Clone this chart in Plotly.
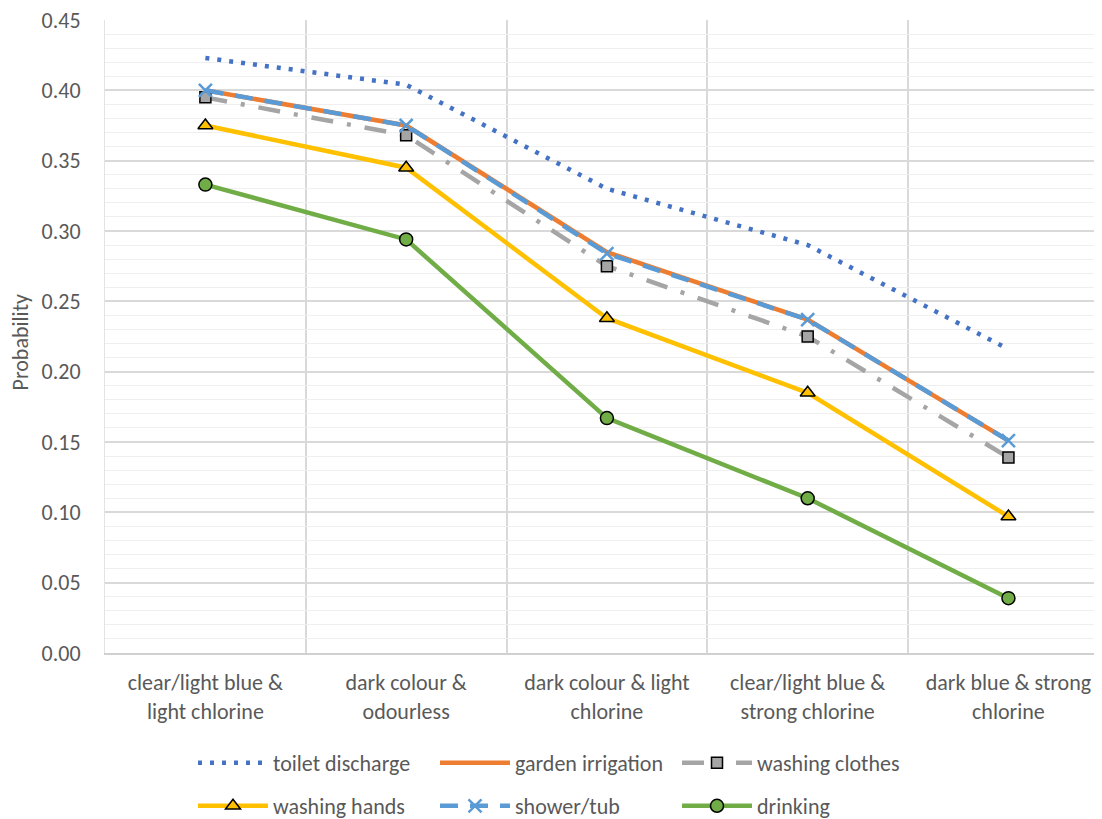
import plotly.graph_objects as go

categories = ["clear/light blue & light chlorine", "dark colour & odourless",
              "dark colour & light chlorine", "clear/light blue & strong chlorine",
              "dark blue & strong chlorine"]
tick_labels = ["clear/light blue &<br>light chlorine", "dark colour &<br>odourless",
               "dark colour & light<br>chlorine", "clear/light blue &<br>strong chlorine",
               "dark blue & strong<br>chlorine"]
y_title = "Probability"

toilet_discharge = [0.423, 0.404, 0.330, 0.290, 0.216]
garden_irrigation = [0.400, 0.375, 0.285, 0.237, 0.151]
washing_clothes = [0.395, 0.368, 0.275, 0.225, 0.139]
washing_hands = [0.375, 0.345, 0.238, 0.185, 0.097]
shower_tub = [0.400, 0.375, 0.284, 0.237, 0.151]
drinking = [0.333, 0.294, 0.167, 0.110, 0.039]

x = list(range(len(categories)))
FONT = "Calibri, Carlito, Lato, sans-serif"
TXT = "#595959"
FS = 22
W, H = 1094, 811   # page has an 8px body margin
OFF = 8

fig = go.Figure()
fig.add_trace(go.Scatter(x=x, y=toilet_discharge, name="toilet discharge", mode="lines",
                         line=dict(color="#4472C4", width=4.5, dash="4px,8px"),
                         legend="legend"))
fig.add_trace(go.Scatter(x=x, y=garden_irrigation, name="garden irrigation", mode="lines",
                         line=dict(color="#ED7D31", width=4.5), legend="legend2"))
fig.add_trace(go.Scatter(x=x, y=washing_clothes, name="washing clothes", mode="lines+markers",
                         line=dict(color="#A5A5A5", width=4.5, dash="22px,14px,4px,14px"),
                         marker=dict(symbol="square", size=11, color="#A5A5A5",
                                     line=dict(color="#000000", width=1.5)),
                         legend="legend3"))
fig.add_trace(go.Scatter(x=x, y=washing_hands, name="washing hands", mode="lines+markers",
                         line=dict(color="#FFC000", width=4.5),
                         marker=dict(symbol="triangle-up", size=13, color="#FFC000",
                                     line=dict(color="#000000", width=1.5)),
                         legend="legend4"))
fig.add_trace(go.Scatter(x=x, y=shower_tub, name="shower/tub", mode="lines+markers",
                         line=dict(color="#5B9BD5", width=4.5, dash="18px,12px"),
                         marker=dict(symbol="x-thin", size=13, color="#5B9BD5",
                                     line=dict(color="#5B9BD5", width=2.5)),
                         legend="legend5"))
fig.add_trace(go.Scatter(x=x, y=drinking, name="drinking", mode="lines+markers",
                         line=dict(color="#70AD47", width=4.5),
                         marker=dict(symbol="circle", size=13, color="#70AD47",
                                     line=dict(color="#000000", width=1.5)),
                         legend="legend6"))


def leg(px, py):
    # px: desired left of legend line symbol in page pixels, py: row centre
    return dict(xref="container", yref="container",
                x=(px - OFF - 6) / W, y=1 - (py - OFF) / H,
                xanchor="left", yanchor="middle", orientation="v", visible=True,
                font=dict(family=FONT, size=FS, color=TXT), itemwidth=70,
                bgcolor="rgba(0,0,0,0)", borderwidth=0)


fig.update_layout(
    width=W, height=H, showlegend=True,
    margin=dict(l=105 - OFF, r=0, t=20 - OFF, b=166, autoexpand=False),
    paper_bgcolor="white", plot_bgcolor="white",
    font=dict(family=FONT, size=FS, color=TXT),
    legend=leg(199, 763), legend2=leg(441, 763), legend3=leg(683, 763),
    legend4=leg(199, 806), legend5=leg(441, 806), legend6=leg(683, 806),
    xaxis=dict(range=[-0.5, 4.466], tickmode="array", tickvals=x, ticktext=tick_labels,
               showgrid=False, zeroline=False, showline=True, linecolor="#D0D0D0", linewidth=1.5,
               ticks="outside", ticklen=9, tickcolor="rgba(0,0,0,0)",
               ticklabeloverflow="allow",
               tickfont=dict(family=FONT, size=FS, color=TXT),
               minor=dict(tick0=0.5, dtick=1, showgrid=True, gridcolor="#D9D9D9", gridwidth=1.5,
                          ticks="")),
    yaxis=dict(range=[0, 0.45], dtick=0.05, tickformat=".2f", showgrid=True,
               gridcolor="#D9D9D9", gridwidth=1.5, zeroline=False, showline=True,
               linecolor="#E3E3E3", ticks="outside", ticklen=19, tickcolor="rgba(0,0,0,0)",
               ticklabeloverflow="allow",
               tickfont=dict(family=FONT, size=FS, color=TXT),
               minor=dict(dtick=0.01, showgrid=True, gridcolor="#EFEFEF", gridwidth=1,
                          ticks="")),
    annotations=[dict(text=y_title, xref="paper", yref="paper", x=-0.085, y=0.491,
                      xanchor="center", yanchor="middle", textangle=-90, showarrow=False,
                      font=dict(family=FONT, size=FS, color=TXT))],
)

fig.write_html("out.html")
